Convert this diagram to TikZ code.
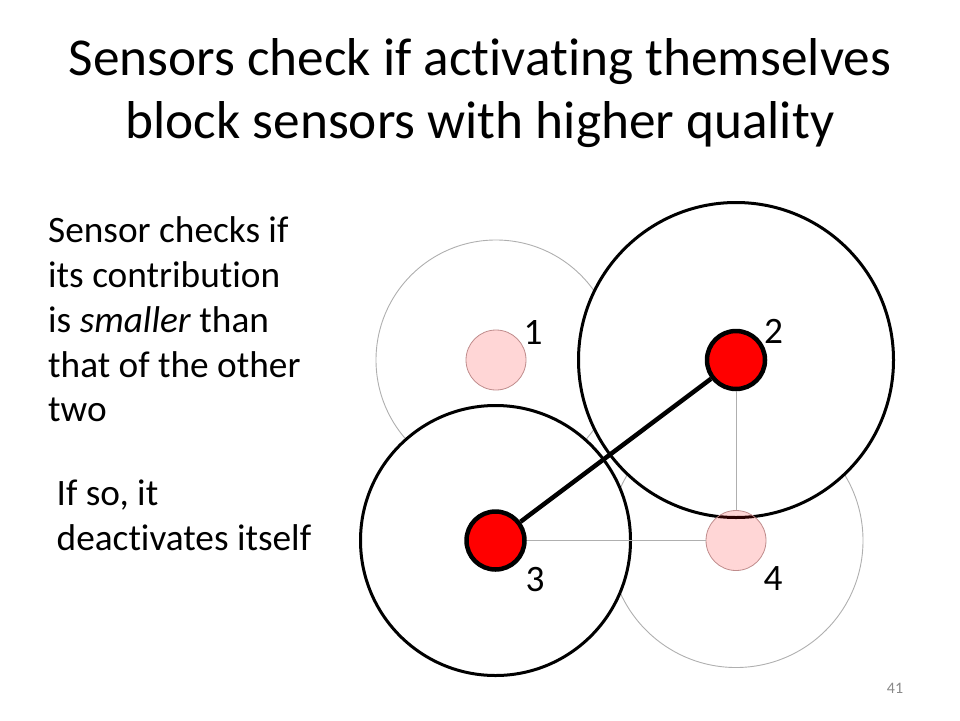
\documentclass[tikz,border=0pt]{standalone}
\usepackage{fontspec}
\setmainfont{Carlito}[Ligatures=NoCommon]
\definecolor{rangegray}{RGB}{175,175,175}
\definecolor{pagegray}{RGB}{137,137,137}
\tikzset{
  coveroff/.style={draw=rangegray, line width=0.9pt},
  coveron/.style={draw=black, line width=3pt, fill=white},
  link/.style={draw=rangegray, line width=1pt},
  active/.style={draw=black, line width=4.5pt},
  sensoroff/.style={circle, inner sep=0pt, minimum size=60pt, draw=rangegray!80!red, line width=0.8pt, fill=red, fill opacity=0.16},
  sensoron/.style={circle, inner sep=0pt, minimum size=58pt, draw=black, line width=4.5pt, fill=red},
  num/.style={font=\fontsize{37.3}{44.8}\selectfont, inner sep=0pt},
  body/.style={font=\fontsize{37.3}{44.8}\selectfont, align=left, anchor=base west, inner sep=0pt}
}
\begin{document}
\begin{tikzpicture}[x=1pt,y=-1pt]
\useasboundingbox (0,0) rectangle (960,720);
% title
\node[font=\fontsize{53.3}{63.3}\selectfont, align=center, anchor=base] (title) at (480,138.3) {Sensors check if activating themselves\\block sensors with higher quality};
% text on the left
\node[body] (rule) at (48,421.9) {Sensor checks if\\its contribution\\is \textit{smaller} than\\that of the other\\two};
\node[body] (deact) at (56.5,550) {If so, it\\deactivates itself};
% sensing ranges
\coordinate (c1) at (496,360);
\coordinate (c2) at (736,360);
\coordinate (c3) at (495.5,540.5);
\coordinate (c4) at (736,540.5);
\draw[coveroff] (c1) circle (120);
\draw[coveroff] (c4) circle (127);
\draw[coveron] (c2) circle (157.5);
\draw[coveron] (c3) circle (135);
% sensors
\node[sensoroff] (s1) at (c1) {};
\node[sensoroff] (s4) at (c4) {};
\node[sensoron] (s2) at (c2) {};
\node[sensoron] (s3) at (c3) {};
\draw[link] (s2) -- (s4);
\draw[link] (s3) -- (s4);
\draw[active] (s3) -- (s2);
\node[num] (n1) at (533,332) {1};
\node[num] (n2) at (773.5,331) {2};
\node[num] (n3) at (535,580) {3};
\node[num] (n4) at (773,579) {4};
% slide number
\node[font=\fontsize{16}{19}\selectfont, text=pagegray] (page) at (895,688) {41};
\end{tikzpicture}
\end{document}
